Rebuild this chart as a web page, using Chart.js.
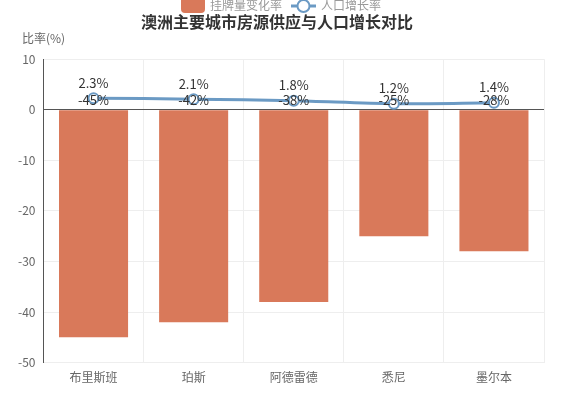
<!DOCTYPE html>
<html>
<head>
  <meta charset="UTF-8">
  <title>澳洲主要城市房源供应与人口增长对比</title>
  <script src="https://cdn.jsdelivr.net/npm/chart.js"></script>
  <style>
    body { margin: 0; background: #fff; }
    #wrap { width: 585px; height: 398px; position: relative; }
  </style>
</head>
<body>
  <div id="wrap"><canvas id="chart"></canvas></div>
  <script>
    const cities = ['布里斯班', '珀斯', '阿德雷德', '悉尼', '墨尔本'];
    const listingChange = [-45, -42, -38, -25, -28];
    const popGrowth = [2.3, 2.1, 1.8, 1.2, 1.4];

    const FONT = '"Noto Sans CJK SC", "Noto Sans", sans-serif';
    const barColor = '#d9795a';
    const lineColor = '#6b9ac4';

    // labels, axis name and legend drawn on top
    const extras = {
      id: 'extras',
      afterDatasetsDraw(chart) {
        const ctx = chart.ctx;
        ctx.save();
        ctx.font = '13px ' + FONT;
        ctx.fillStyle = '#333';
        ctx.textAlign = 'center';
        ctx.textBaseline = 'bottom';
        chart.getDatasetMeta(0).data.forEach((el, i) => {
          ctx.fillText(listingChange[i] + '%', el.x, chart.scales.y.getPixelForValue(0) - 3);
        });
        chart.getDatasetMeta(1).data.forEach((el, i) => {
          ctx.fillText(popGrowth[i] + '%', el.x, el.y - 9);
        });
        ctx.restore();
      },
      afterDraw(chart) {
        const ctx = chart.ctx;
        ctx.save();
        ctx.font = '12px ' + FONT;
        ctx.fillStyle = '#666';
        ctx.textBaseline = 'middle';
        ctx.textAlign = 'left';
        ctx.fillText('比率(%)', 22, 38);
        // legend
        ctx.font = '12px ' + FONT;
        ctx.fillStyle = barColor;
        ctx.beginPath();
        ctx.roundRect(181, -3, 24, 16, 4);
        ctx.fill();
        ctx.fillStyle = '#999';
        ctx.fillText('挂牌量变化率', 210, 5);
        ctx.strokeStyle = lineColor;
        ctx.lineWidth = 3;
        ctx.beginPath();
        ctx.moveTo(291, 6); ctx.lineTo(316, 6);
        ctx.stroke();
        ctx.fillStyle = '#fff';
        ctx.lineWidth = 2;
        ctx.beginPath();
        ctx.arc(303.5, 6, 6, 0, Math.PI * 2);
        ctx.fill(); ctx.stroke();
        ctx.fillStyle = '#999';
        ctx.fillText('人口增长率', 321, 5);
        ctx.restore();
      }
    };

    new Chart(document.getElementById('chart'), {
      data: {
        labels: cities,
        datasets: [
          {
            type: 'bar',
            label: '挂牌量变化率',
            data: listingChange,
            backgroundColor: barColor,
            barPercentage: 0.69,
            categoryPercentage: 1,
            order: 2
          },
          {
            type: 'line',
            label: '人口增长率',
            data: popGrowth,
            borderColor: lineColor,
            borderWidth: 3,
            tension: 0.3,
            pointRadius: 5,
            pointBorderWidth: 2,
            pointBackgroundColor: '#fff',
            pointBorderColor: lineColor,
            order: 1
          }
        ]
      },
      options: {
        responsive: true,
        maintainAspectRatio: false,
        animation: false,
        layout: { padding: { left: 10, right: 41, bottom: 5 } },
        plugins: {
          legend: { display: false },
          tooltip: { enabled: false },
          title: {
            display: true,
            text: '澳洲主要城市房源供应与人口增长对比',
            color: '#333',
            font: { family: FONT, size: 16, weight: 'bold' },
            padding: { top: 12, bottom: 28 }
          }
        },
        scales: {
          x: {
            grid: { color: '#eee', offset: true, drawTicks: false },
            border: { color: '#eee' },
            ticks: { color: '#666', font: { family: FONT, size: 12 }, padding: 8 }
          },
          y: {
            min: -50,
            max: 10,
            ticks: { stepSize: 10, color: '#666', font: { family: FONT, size: 12 }, padding: 8 },
            grid: {
              color: c => c.tick && c.tick.value === 0 ? '#555' : '#eee',
              drawTicks: false
            },
            border: { color: '#555' }
          }
        }
      },
      plugins: [extras]
    });
  </script>
</body>
</html>
